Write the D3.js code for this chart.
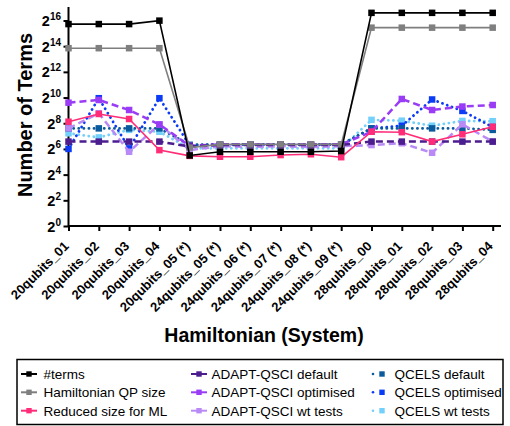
<!DOCTYPE html>
<html>
<head>
<meta charset="utf-8">
<script src="https://cdn.jsdelivr.net/npm/d3@7"></script>
<style>
  html, body { margin: 0; padding: 0; background: #fff; }
  svg { display: block; font-family: "Liberation Sans", Arial, sans-serif; }
</style>
</head>
<body>
<svg id="chart" width="510" height="426"></svg>
<script>
// Hamiltonian systems on the x axis
const categories = [
  "20qubits_01", "20qubits_02", "20qubits_03", "20qubits_04", "20qubits_05 (*)",
  "24qubits_05 (*)", "24qubits_06 (*)", "24qubits_07 (*)", "24qubits_08 (*)", "24qubits_09 (*)",
  "28qubits_00", "28qubits_01", "28qubits_02", "28qubits_03", "28qubits_04"
];

// Number of terms per system, one array per series
const termsCount       = [54000, 54000, 54000, 65000, 45, 55, 55, 55, 55, 57, 99000, 99000, 99000, 99000, 99000];
const qpSize           = [14700, 14700, 14700, 14700, 69, 82, 82, 82, 82, 82, 44500, 44500, 44500, 44500, 44500];
const reducedML        = [278, 422, 322, 60, 44, 42, 42, 46, 48, 41, 162, 158, 95, 141, 212];
const adaptDefault     = [95, 95, 95, 95, 73, 79, 79, 79, 79, 79, 95, 95, 95, 95, 95];
const adaptOptimised   = [776, 898, 523, 239, 76, 82, 82, 80, 82, 82, 162, 949, 523, 630, 685];
const adaptWtTests     = [194, 440, 55, 242, 60, 74, 71, 74, 71, 74, 79, 87, 52, 242, 95];
const qcelsDefault     = [194, 194, 194, 194, 80, 82, 82, 82, 82, 82, 194, 194, 194, 194, 179];
const qcelsOptimised   = [64, 989, 66, 989, 78, 80, 80, 80, 80, 80, 194, 223, 923, 498, 208];
const qcelsWtTests     = [149, 119, 179, 162, 66, 66, 66, 66, 66, 66, 307, 294, 224, 290, 286];

// Exponents of the labelled y ticks (powers of two)
const yTickExponents = [0, 2, 4, 6, 8, 10, 12, 14, 16];

const seriesNames = [
  "#terms", "Hamiltonian QP size", "Reduced size for ML",
  "ADAPT-QSCI default", "ADAPT-QSCI optimised", "ADAPT-QSCI wt tests",
  "QCELS default", "QCELS optimised", "QCELS wt tests"
];
const seriesValues = [
  termsCount, qpSize, reducedML,
  adaptDefault, adaptOptimised, adaptWtTests,
  qcelsDefault, qcelsOptimised, qcelsWtTests
];
const seriesColors = [
  "#000000", "#7f7f7f", "#ff2d78",
  "#4c1d8f", "#9a3cf5", "#b98af6",
  "#0b5a9c", "#0b3bf5", "#72d0fa"
];
// line style per series: solid, dashed or dotted
const seriesStyles = ["solid", "solid", "solid", "dash", "dash", "dash", "dot", "dot", "dot"];

const series = seriesNames.map((name, i) => ({
  name, values: seriesValues[i], color: seriesColors[i], style: seriesStyles[i]
}));

const svg = d3.select("#chart");

const plot = { left: 68.5, right: 492.7, top: 7, bottom: 226, axisEnd: 501 };

const x = d3.scalePoint().domain(categories).range([plot.left, plot.right]).padding(0);
const y = d3.scaleLog().base(2).domain([1, Math.pow(2, 17.05)]).range([plot.bottom, plot.top]);

const styleDash = { solid: null, dash: "7,4", dot: "0.1,5" };
const styleWidth = { solid: 1.6, dash: 2.5, dot: 2.8 };

// ----- axes -----
const yAxis = d3.axisLeft(y)
  .tickValues(yTickExponents.map(e => Math.pow(2, e)))
  .tickSize(5)
  .tickFormat("");
const gy = svg.append("g").attr("transform", `translate(${plot.left},0)`).call(yAxis);
gy.select(".domain").attr("d", `M0,${plot.top}V${plot.bottom}`);
gy.selectAll(".domain, .tick line").attr("stroke", "#000").attr("stroke-width", 2);

// y tick labels as 2 with a superscript exponent
yTickExponents.forEach(e => {
  const t = svg.append("text")
    .attr("x", 61)
    .attr("y", y(Math.pow(2, e)) + 5.5)
    .attr("text-anchor", "end")
    .attr("font-weight", "bold")
    .attr("fill", "#000");
  t.append("tspan").attr("font-size", 14.5).text("2");
  t.append("tspan").attr("font-size", 10).attr("dy", -6).text(e);
});

const xAxis = d3.axisBottom(x).tickSize(5).tickFormat("");
const gx = svg.append("g").attr("transform", `translate(0,${plot.bottom})`).call(xAxis);
gx.select(".domain").attr("d", `M${plot.left},0H${plot.axisEnd}`);
gx.selectAll(".domain, .tick line").attr("stroke", "#000").attr("stroke-width", 2);

// rotated category labels
svg.append("g").selectAll("text")
  .data(categories)
  .join("text")
  .attr("transform", d => `translate(${x(d) + 1},${247}) rotate(-45)`)
  .attr("text-anchor", "end")
  .attr("font-size", 13)
  .attr("font-weight", "bold")
  .attr("fill", "#000")
  .text(d => d);

// axis titles
svg.append("text")
  .attr("transform", `translate(32,115) rotate(-90)`)
  .attr("text-anchor", "middle")
  .attr("font-size", 20)
  .attr("font-weight", "bold")
  .text("Number of Terms");

svg.append("text")
  .attr("x", 264)
  .attr("y", 341.5)
  .attr("text-anchor", "middle")
  .attr("font-size", 19.5)
  .attr("font-weight", "bold")
  .text("Hamiltonian (System)");

// ----- series (first series drawn last so it sits on top) -----
const line = d3.line()
  .x((d, i) => x(categories[i]))
  .y(d => y(d));

const markerSize = 6.5;
const layers = svg.append("g");
series.slice().reverse().forEach(s => {
  const g = layers.append("g");
  g.append("path")
    .attr("d", line(s.values))
    .attr("fill", "none")
    .attr("stroke", s.color)
    .attr("stroke-width", styleWidth[s.style])
    .attr("stroke-dasharray", styleDash[s.style])
    .attr("stroke-linecap", s.style === "dot" ? "round" : "butt");
  g.selectAll("rect")
    .data(s.values)
    .join("rect")
    .attr("x", (d, i) => x(categories[i]) - markerSize / 2)
    .attr("y", d => y(d) - markerSize / 2)
    .attr("width", markerSize)
    .attr("height", markerSize)
    .attr("fill", s.color);
});

// ----- legend -----
const legend = svg.append("g");
legend.append("rect")
  .attr("x", 17).attr("y", 359.5)
  .attr("width", 486).attr("height", 65)
  .attr("fill", "#fff")
  .attr("stroke", "#000")
  .attr("stroke-width", 1.5);

const colX = [29, 199, 382];
const colText = [43.5, 211.5, 394.5];
const rowY = [374, 392.3, 410.7];

series.forEach((s, i) => {
  const c = Math.floor(i / 3), r = i % 3;
  const cx = colX[c], cy = rowY[r];
  const g = legend.append("g");
  if (s.style === "dot") {
    g.append("circle").attr("cx", cx - 9).attr("cy", cy).attr("r", 1.3).attr("fill", s.color);
  } else {
    g.append("line")
      .attr("x1", cx - 8).attr("x2", cx + 8)
      .attr("y1", cy).attr("y2", cy)
      .attr("stroke", s.color)
      .attr("stroke-width", 2);
  }
  g.append("rect")
    .attr("x", cx - 2.7).attr("y", cy - 2.7)
    .attr("width", 5.4).attr("height", 5.4)
    .attr("fill", s.color);
  g.append("text")
    .attr("x", colText[c])
    .attr("y", cy + 5)
    .attr("font-size", 13.5)
    .attr("fill", "#000")
    .text(s.name);
});
</script>
</body>
</html>
